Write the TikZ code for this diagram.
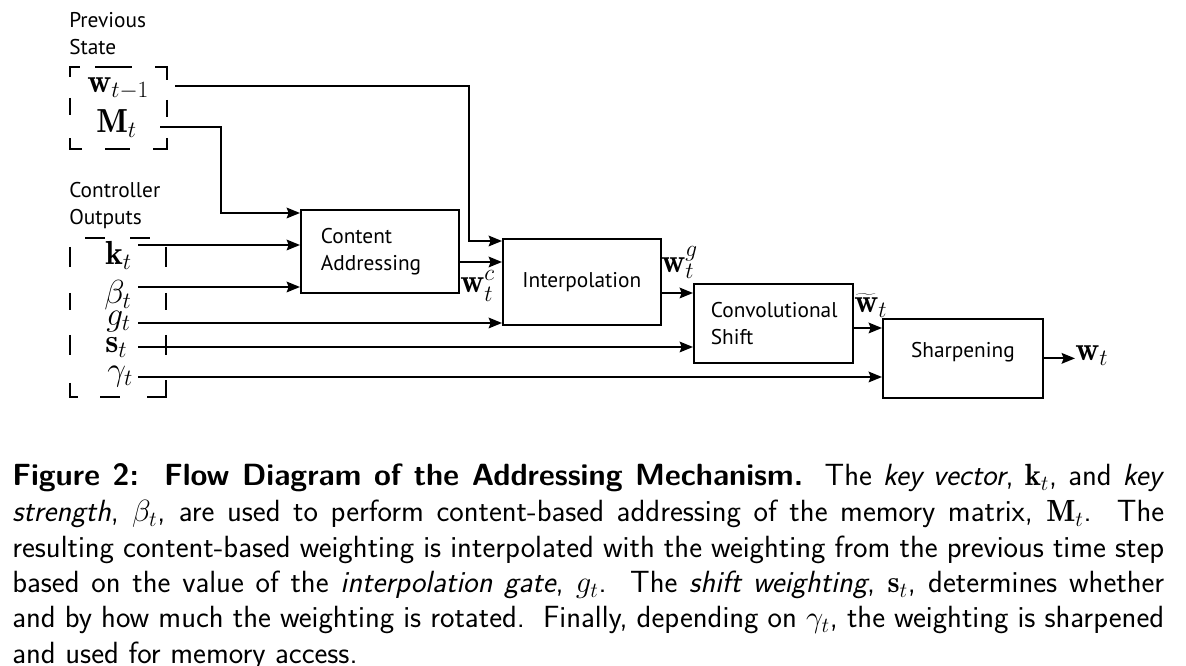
\RequirePackage{fix-cm}
\documentclass[tikz,border=0pt]{standalone}
\usepackage{fontspec}
\newfontfamily\dfont{PT Sans}
\usetikzlibrary{arrows.meta}
\begin{document}
\begin{tikzpicture}[x=0.75pt,y=-0.75pt,
  arr/.style={-{Stealth[length=10pt,width=8pt,inset=1.5pt]}, line width=1.3pt},
  blk/.style={draw, line width=1.3pt, anchor=north west, inner ysep=0pt, font=\dfont\fontsize{16}{20.25}\selectfont},
  grp/.style={line width=1.3pt},
  txt/.style={inner sep=0pt, font=\dfont\fontsize{16}{20.25}\selectfont, align=left},
  mth/.style={inner sep=0pt, anchor=base west, font=\fontsize{25}{29}\selectfont},
  captxt/.style={inner sep=0pt, anchor=base west, font=\sffamily\fontsize{23}{27}\selectfont},
]
\useasboundingbox (0,0) rectangle (1186,666);

% group labels
\node[txt, anchor=north west] (prev) at (69,12) {Previous\\State};
\node[txt, anchor=north west] (ctrl) at (69,182) {Controller\\Outputs};

% dashed group outlines
\draw[grp] (70,77) -- (70,67) -- (80,67);
\draw[grp] (95,67) -- (132,67);
\draw[grp] (155,67) -- (167,67) -- (167,80);
\draw[grp] (167,100) -- (167,117);
\draw[grp] (167,138) -- (167,149) -- (153,149);
\draw[grp] (105,149) -- (130,149);
\draw[grp] (82,149) -- (70,149) -- (70,138);
\draw[grp] (70,98) -- (70,115);

\draw[grp] (85,238) -- (105,238);
\draw[grp] (130,238) -- (150,238);
\draw[grp] (70,247) -- (70,267);
\draw[grp] (70,293) -- (70,310);
\draw[grp] (70,335) -- (70,355);
\draw[grp] (70,383) -- (70,397) -- (78,397);
\draw[grp] (100,397) -- (120,397);
\draw[grp] (147,397) -- (166,397) -- (166,380);
\draw[grp] (166,247) -- (166,267);
\draw[grp] (166,293) -- (166,310);
\draw[grp] (166,335) -- (166,355);

% input labels
\node[mth] (wprev) at (87,93) {$\mathbf{w}_{t-1}$};
\node[mth] (M) at (96,133) {$\mathbf{M}_t$};
\node[mth] (k) at (105,265) {$\mathbf{k}_t$};
\node[mth] (b) at (104,304) {$\beta_t$};
\node[mth] (g) at (106,326) {$g_t$};
\node[mth] (s) at (105,353) {$\mathbf{s}_t$};
\node[mth] (gam) at (107,381) {$\gamma_t$};

% blocks
\node[blk, minimum width=118.5pt, minimum height=62.25pt, text width=88.5pt, inner xsep=15pt, align=left] (ca) at (300,209) {Content\\Addressing};
\node[blk, minimum width=118.5pt, minimum height=64.5pt, align=center] (interp) at (502,238) {Interpolation};
\node[blk, minimum width=119.25pt, minimum height=59.25pt, text width=93.75pt, inner xsep=12.75pt, align=left] (conv) at (693,283) {Convolutional\\Shift};
\node[blk, minimum width=120pt, minimum height=59.25pt, text depth=13pt] (sharp) at (882,318) {Sharpening};

% intermediate labels
\node[mth] (wc) at (460,293) {$\mathbf{w}_t^c$};
\node[mth] (wg) at (661,273) {$\mathbf{w}_t^g$};
\node[mth] (wtl) at (854,313) {$\widetilde{\mathbf{w}}_t$};
\node[mth] (out) at (1075,361) {$\mathbf{w}_t$};

% connector start points and bends
\coordinate (wprev-o) at (175,86);
\coordinate (M-o) at (160,127);
\coordinate (k-o) at (138,245);
\coordinate (b-o) at (138,287);
\coordinate (g-o) at (138,323);
\coordinate (s-o) at (138,347);
\coordinate (gam-o) at (138,377);
\coordinate (j1) at (469,241);
\coordinate (j2) at (221,213);
\coordinate (y-cai) at (480,262);
\coordinate (y-ic) at (676,293);
\coordinate (y-cs) at (867,328);

\draw[arr] (wprev-o) -| (j1) -- (j1 -| interp.west);
\draw[arr] (M-o) -| (j2) -- (j2 -| ca.west);
\draw[arr] (k-o) -- (k-o -| ca.west);
\draw[arr] (b-o) -- (b-o -| ca.west);
\draw[arr] (g-o) -- (g-o -| interp.west);
\draw[arr] (s-o) -- (s-o -| conv.west);
\draw[arr] (gam-o) -- (gam-o -| sharp.west);
\draw[arr] (ca.east |- y-cai) -- (interp.west |- y-cai);
\draw[arr] (interp.east |- y-ic) -- (conv.west |- y-ic);
\draw[arr] (conv.east |- y-cs) -- (sharp.west |- y-cs);
\draw[arr] (sharp.east) -- (sharp.east -| out.west);

% caption
\node[captxt] (cap1) at (12,486) {\makebox[864pt][s]{\textbf{Figure 2:\ \ Flow Diagram of the Addressing Mechanism.}\ \ The \textit{key vector}, $\mathbf{k}_t$, and \textit{key}}};
\node[captxt] (cap2) at (12,521.5) {\makebox[864pt][s]{\textit{strength}, $\beta_t$, are used to perform content-based addressing of the memory matrix, $\mathbf{M}_t$.\ \ The}};
\node[captxt] (cap3) at (12,557) {\makebox[864pt][s]{resulting content-based weighting is interpolated with the weighting from the previous time step}};
\node[captxt] (cap4) at (12,592.5) {\makebox[864pt][s]{based on the value of the \textit{interpolation gate}, $g_t$.\ \ The \textit{shift weighting}, $\mathbf{s}_t$, determines whether}};
\node[captxt] (cap5) at (12,628) {\makebox[864pt][s]{and by how much the weighting is rotated.\ \ Finally, depending on $\gamma_t$, the weighting is sharpened}};
\node[captxt] (cap6) at (12,663.5) {and used for memory access.};
\end{tikzpicture}
\end{document}
